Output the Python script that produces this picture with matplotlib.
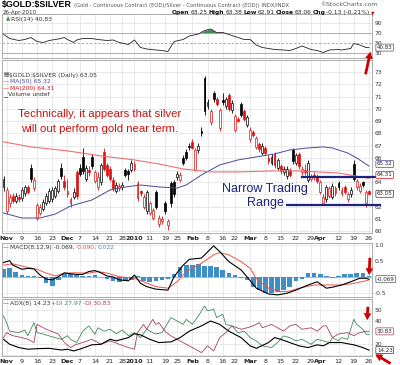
import numpy as np
import pandas as pd
import matplotlib
matplotlib.use('Agg')
import matplotlib.pyplot as plt
from matplotlib.patches import FancyArrowPatch

plt.rcParams['font.family'] = ['DejaVu Sans']

# ---------------- data ----------------
holidays = ['2009-11-26', '2009-12-25', '2010-01-01', '2010-01-18', '2010-02-15', '2010-04-02']

opens = [63.6, 61.6, 62.3, 62.9, 62.5, 62.8, 62.7, 63.1, 63.6, 65.2, 63.5, 61.1, 61.5, 61.8, 62.3, 62.5,
         62.6, 62.9, 63.3, 65.2, 64.1, 63.0, 62.3, 62.8, 64.8, 65.2, 66.1, 64.3, 65.0, 66.1, 64.1, 63.6,
         64.0, 66.5, 65.4, 65.1, 64.2, 63.3, 63.5, 63.6, 65.0, 64.9, 65.0, 65.1, 62.7, 63.3, 62.0, 61.6,
         61.5, 61.1, 63.2, 60.6, 60.8, 62.3, 60.5, 63.9, 64.0, 64.4, 64.2, 66.0, 66.5, 67.0, 67.3, 65.0,
         66.6, 68.2, 72.5, 70.2, 68.9, 71.3, 70.8, 68.4, 70.7, 70.2, 71.1, 69.9, 68.3, 69.2, 70.4, 69.8,
         68.7, 67.5, 68.1, 66.9, 67.1, 66.4, 66.8, 66.0, 65.6, 66.3, 65.2, 65.3, 64.8, 64.5, 65.0, 66.6,
         65.6, 66.3, 64.8, 65.0, 64.2, 64.3, 64.6, 64.5, 63.2, 62.3, 62.6, 62.9, 62.8, 63.1, 63.9, 63.1,
         63.6, 62.6, 63.0, 65.5, 63.6, 63.3, 64.0, 62.3, 63.25]
highs = [64.5, 63.6, 63.0, 63.1, 63.1, 63.0, 63.6, 63.8, 63.8, 65.5, 64.4, 62.3, 62.2, 62.6, 63.1, 63.5,
         63.6, 63.7, 64.3, 65.6, 64.6, 64.3, 62.8, 63.5, 65.0, 65.5, 66.8, 65.4, 65.3, 66.3, 65.0, 64.8,
         65.6, 66.8, 65.6, 65.3, 64.4, 64.0, 63.9, 64.0, 65.2, 65.1, 65.8, 65.7, 64.1, 63.4, 63.0, 63.4,
         62.5, 61.9, 63.4, 61.3, 61.2, 62.5, 61.0, 64.1, 64.2, 64.9, 64.8, 66.2, 66.7, 67.2, 67.5, 66.8,
         67.2, 68.5, 72.7, 70.8, 70.0, 71.5, 71.0, 70.1, 71.3, 71.0, 71.3, 70.7, 69.6, 69.3, 70.6, 70.0,
         69.5, 68.5, 68.3, 67.8, 67.3, 67.2, 67.0, 66.2, 66.3, 66.5, 66.0, 65.5, 65.3, 65.3, 65.2, 66.8,
         66.4, 66.5, 65.3, 65.5, 65.8, 64.7, 64.8, 64.7, 64.2, 63.0, 63.8, 63.7, 63.9, 63.7, 64.1, 63.6,
         63.8, 63.2, 63.6, 65.8, 64.3, 63.9, 64.1, 63.4, 63.38]
lows = [63.3, 61.4, 62.0, 62.3, 62.3, 62.4, 62.5, 62.9, 63.0, 64.0, 63.3, 60.9, 61.3, 61.6, 62.1, 62.3,
        62.4, 62.7, 63.1, 64.3, 63.4, 62.8, 62.0, 62.6, 62.6, 64.5, 64.7, 64.1, 64.5, 65.1, 63.9, 63.4,
        63.8, 64.9, 64.4, 64.1, 63.3, 63.1, 63.3, 63.4, 64.4, 64.2, 64.8, 64.9, 62.5, 62.9, 61.8, 61.4,
        61.3, 60.9, 61.8, 60.3, 60.6, 61.4, 60.1, 62.0, 62.8, 64.2, 64.0, 65.4, 65.8, 66.6, 66.7, 64.9,
        66.4, 67.8, 69.5, 70.0, 68.7, 70.6, 70.2, 68.2, 70.3, 70.0, 69.8, 69.7, 68.1, 68.9, 69.3, 69.0,
        68.5, 67.3, 67.7, 66.7, 66.5, 66.2, 66.2, 65.5, 65.4, 65.2, 65.0, 64.7, 64.6, 64.3, 64.4, 65.5,
        65.4, 65.1, 64.6, 64.6, 64.0, 64.1, 64.2, 63.9, 63.0, 62.1, 62.4, 62.7, 62.6, 62.9, 63.4, 62.9,
        63.0, 62.4, 62.8, 64.1, 63.4, 63.1, 63.6, 62.0, 62.91]
closes = [64.3, 63.4, 62.8, 62.5, 62.9, 62.6, 63.4, 63.6, 63.2, 64.3, 64.2, 62.1, 62.0, 62.4, 62.9, 63.3,
          63.4, 63.5, 64.1, 64.5, 63.6, 63.3, 62.6, 63.2, 62.9, 64.7, 64.9, 65.2, 64.8, 65.3, 64.8, 64.4,
          65.4, 65.1, 64.6, 64.3, 63.5, 63.8, 63.7, 63.8, 64.6, 64.7, 65.6, 65.5, 63.9, 63.1, 62.8, 63.2,
          62.3, 61.7, 62.0, 61.1, 61.0, 61.6, 60.8, 62.3, 63.0, 64.7, 64.6, 65.6, 66.0, 66.9, 66.8, 66.6,
          67.0, 68.0, 69.8, 70.6, 69.8, 70.8, 70.4, 69.9, 70.6, 70.8, 70.0, 70.5, 69.4, 69.0, 69.5, 69.2,
          69.3, 68.3, 67.9, 67.6, 66.7, 67.0, 66.4, 65.7, 66.1, 65.4, 65.8, 64.9, 65.1, 65.1, 64.6, 65.7,
          66.2, 65.3, 65.1, 64.8, 65.6, 64.5, 64.4, 64.1, 64.0, 62.8, 63.6, 63.5, 63.7, 63.5, 63.6, 63.4,
          63.2, 63.0, 63.4, 64.3, 64.1, 63.7, 63.8, 63.18, 63.05]

ma50_day = [0, 6, 12, 17, 22, 29, 35, 40, 45, 51, 57, 60, 65, 71, 77, 83, 89, 94, 100, 105, 108, 113, 116, 120]
ma50_val = [61.48, 61.07, 61.07, 61.39, 62.05, 62.54, 63.36, 63.61, 63.77, 63.61, 63.52, 63.77, 64.59,
            65.41, 65.82, 66.07, 66.31, 66.64, 66.80, 66.89, 66.80, 66.39, 65.98, 65.32]
ma200_day = [0, 9, 21, 32, 43, 51, 59, 68, 78, 88, 97, 110, 120]
ma200_val = [67.30, 66.89, 66.56, 66.15, 65.82, 65.49, 65.08, 64.84, 64.84, 64.92, 64.92, 64.75, 64.31]

rsi_day = [0, 2, 5, 7, 9, 11, 13, 15, 18, 20, 21, 23, 24, 26, 29, 31, 34, 36, 38, 41, 43, 45, 47, 50, 52,
           54, 55, 56, 59, 61, 64, 66, 68, 70, 72, 74, 77, 79, 81, 83, 85, 89, 92, 94, 96, 98, 101, 103,
           105, 107, 110, 111, 114, 115, 117, 119, 120]
rsi_val = [67.4, 59, 55, 57, 61, 53, 51, 55, 58, 61, 57, 51, 56, 59, 59, 57, 55, 56, 51, 47, 56, 41, 38, 36,
           35, 33, 43, 53, 57, 64, 68, 75, 78, 71, 71, 67, 61, 57, 57, 46, 41, 37, 36, 35, 39, 44, 37, 35,
           31, 36, 37, 36, 39, 49, 46, 41, 40.83]

macd_day = [0, 2, 3, 6, 8, 10, 12, 14, 16, 18, 20, 21, 24, 26, 28, 30, 32, 34, 36, 38, 41, 43, 45, 47, 50,
            54, 56, 59, 61, 65, 69, 71, 74, 78, 80, 83, 87, 90, 93, 96, 100, 103, 106, 108, 111, 114, 117,
            119, 120]
macd_val = [0.45, 0.51, 0.37, 0.24, 0.27, 0.25, 0.06, -0.07, -0.09, 0.01, 0.13, 0.11, 0.08, 0.08, 0.17, 0.20,
            0.13, 0.03, 0.0, -0.09, -0.12, 0.06, -0.20, -0.30, -0.38, -0.41, 0.01, 0.37, 0.55, 0.59, 0.97,
            0.79, 0.48, 0.22, 0.0, -0.35, -0.53, -0.56, -0.51, -0.41, -0.25, -0.15, -0.35, -0.32, -0.25,
            -0.15, -0.04, -0.04, -0.069]
signal_day = [0, 3, 8, 11, 14, 17, 20, 23, 28, 31, 34, 38, 43, 46, 50, 54, 57, 60, 65, 69, 71, 74, 78, 81,
              83, 87, 91, 94, 97, 102, 106, 111, 115, 119, 120]
signal_val = [0.37, 0.41, 0.30, 0.24, 0.12, 0.03, 0.12, 0.13, 0.12, 0.17, 0.12, 0.01, -0.04, -0.15, -0.30,
              -0.35, -0.15, 0.17, 0.43, 0.69, 0.76, 0.69, 0.48, 0.27, -0.05, -0.35, -0.46, -0.44, -0.35,
              -0.25, -0.25, -0.25, -0.20, -0.12, -0.090]
hist_day = list(range(0, 121, 2))
hist_val = [0.25, 0.28, 0.15, 0.05, 0.04, 0.03, -0.02, -0.20, -0.28, -0.10, 0.08, 0.10, 0.05, 0.02, 0.04,
            0.05, 0.0, -0.05, -0.12, -0.15, -0.14, -0.08, 0.04, -0.12, -0.16, -0.12, -0.08, -0.05, 0.10,
            0.30, 0.36, 0.38, 0.40, 0.35, 0.33, 0.30, 0.22, 0.12, 0.06, -0.02, -0.10, -0.30, -0.42, -0.50,
            -0.50, -0.48, -0.40, -0.30, -0.12, -0.05, 0.12, 0.13, 0.10, 0.03, -0.02, 0.02, 0.08, 0.10,
            0.12, 0.13, 0.02]

pdi_day = [0, 1, 2, 5, 7, 8, 10, 11, 13, 16, 19, 21, 22, 24, 26, 28, 30, 31, 33, 35, 37, 39, 41, 43, 45,
           47, 49, 50, 52, 55, 57, 59, 60, 62, 64, 66, 67, 69, 70, 72, 73, 75, 77, 79, 81, 83, 85, 88, 90,
           92, 94, 96, 98, 101, 103, 105, 107, 108, 110, 111, 113, 115, 116, 118, 119, 120]
pdi_val = [44.5, 38.6, 31, 29.7, 32, 27, 38.6, 29.7, 28.5, 26, 23.8, 27, 23.8, 20.9, 31, 35.7, 28.3, 34, 31,
           32.7, 28.8, 32, 27, 29.7, 25.3, 32.7, 29.7, 28.5, 29.7, 43, 40, 37, 41.5, 37, 44.5, 53.4, 49,
           50.4, 43, 46, 37, 35.7, 29.7, 31, 25.3, 22.4, 18, 16.5, 20.9, 26.8, 25.3, 22.4, 23.8, 19.4, 23.8,
           22.4, 20.9, 25.3, 22.4, 25.3, 23.8, 41.5, 37, 32.7, 28.5, 27.97]
mdi_day = [0, 1, 3, 6, 8, 10, 11, 14, 18, 20, 22, 24, 26, 29, 32, 35, 38, 41, 43, 44, 46, 47, 49, 50, 51,
           53, 55, 57, 60, 62, 65, 67, 69, 71, 73, 75, 78, 80, 82, 84, 85, 88, 90, 92, 94, 96, 98, 101, 103,
           105, 106, 108, 110, 113, 115, 117, 119, 120]
mdi_val = [25.3, 29.7, 27, 25.3, 23.8, 20.9, 37, 32.7, 28.5, 20.9, 16.5, 19.4, 20.9, 23.8, 19.4, 22.4, 19.4,
           16.5, 15, 29.7, 37, 32.7, 41.5, 37, 38.6, 31, 26.8, 23.8, 19.4, 16.5, 12, 18, 13.5, 25.3, 29.7,
           35.7, 32.7, 34, 35.7, 38.6, 34, 37, 34, 31, 35.7, 37, 32.7, 34, 31, 35.7, 35.7, 25.3, 28.5, 29.7,
           27, 29.7, 31, 30.83]
adx_day = [0, 2, 5, 8, 11, 15, 19, 21, 23, 25, 29, 32, 35, 37, 41, 43, 45, 48, 51, 55, 58, 61, 65, 68, 71,
           74, 78, 81, 83, 87, 89, 91, 94, 97, 100, 103, 105, 107, 111, 115, 118, 120]
adx_val = [23.8, 19.4, 16.5, 15, 15.5, 15.8, 14.3, 15, 13.5, 15, 18.9, 19.4, 23.8, 22.4, 25.3, 28.8, 27.7,
           23.8, 20.9, 21.5, 25.3, 31, 35.7, 40, 37, 31, 25.3, 18, 15.8, 20.9, 25.3, 23.8, 20.9, 18, 16.5,
           18.9, 18, 20.9, 20.9, 18.9, 16.5, 14.23]

tick_dates = ['2009-11-02', '2009-11-09', '2009-11-16', '2009-11-23', '2009-12-01', '2009-12-07',
              '2009-12-14', '2009-12-21', '2009-12-28', '2010-01-04', '2010-01-11', '2010-01-19',
              '2010-01-25', '2010-02-01', '2010-02-08', '2010-02-16', '2010-02-22', '2010-03-01',
              '2010-03-08', '2010-03-15', '2010-03-22', '2010-03-29', '2010-04-01', '2010-04-12',
              '2010-04-19', '2010-04-26']
tick_labels = ['Nov', '9', '16', '23', 'Dec', '7', '14', '21', '28', '2010', '11', '19', '25', 'Feb', '8',
               '16', '22', 'Mar', '8', '15', '22', '29', 'Apr', '12', '19', '26']

range_top, range_bottom = 64.45, 62.1
range_top_from, range_bottom_from, range_to = 98, 93, 123.5

# ---------------- layout ----------------
W, H = 400, 365
RED = '#dd1111'
BLUE = '#4a4a9c'
MA200_C = '#f07070'
GREEN = '#3f8a5a'
MAROON = '#a8405e'
HIST_C = '#3f8fc4'
NAVY = '#1c2480'
GRID = '#e2e2e2'

days = pd.bdate_range('2009-10-30', '2010-04-26')
days = days[~days.isin(pd.to_datetime(holidays))]
tick_idx = [days.get_loc(pd.Timestamp(d)) for d in tick_dates]

fig = plt.figure(figsize=(W / 100, H / 100), dpi=100)
fig.patch.set_facecolor('white')


def rect(x0, y0, x1, y1):
    return [x0 / W, 1 - y1 / H, (x1 - x0) / W, (y1 - y0) / H]


def fy(y):
    return 1 - y / H


ax_rsi = fig.add_axes(rect(2, 14, 372, 58))
ax_p = fig.add_axes(rect(2, 60, 372, 233))
ax_m = fig.add_axes(rect(2, 243, 372, 297))
ax_a = fig.add_axes(rect(2, 299, 372, 356))

for ax in (ax_rsi, ax_p, ax_m, ax_a):
    ax.set_xlim(-0.5, 121)
    for s in ax.spines.values():
        s.set_color('#a0a0a0')
        s.set_linewidth(0.6)
    ax.yaxis.tick_right()
    ax.tick_params(axis='both', length=0, labelsize=4.3, colors='#333333', pad=2)
    ax.set_xticks(tick_idx)
    ax.grid(True, color=GRID, lw=0.5)
    ax.set_axisbelow(True)

for ax in (ax_rsi, ax_m):
    ax.set_xticklabels([])
for ax in (ax_p, ax_a):
    ax.set_xticklabels(tick_labels)
    for lab in ax.get_xticklabels():
        if not lab.get_text().isdigit() or lab.get_text() == '2010':
            lab.set_fontweight('bold')
        lab.set_fontsize(4.6)
        lab.set_color('#222222')

# ---------------- RSI ----------------
ax_rsi.set_ylim(20, 108)
ax_rsi.set_yticks([90, 70, 50, 30])
ax_rsi.grid(False, axis='y')
ax_rsi.axhline(90, color=GRID, lw=0.5)
ax_rsi.axhline(70, color='#a0a0a0', lw=0.6)
ax_rsi.axhline(30, color='#a0a0a0', lw=0.6)
ax_rsi.axhline(50, color='#a0a0a0', lw=0.6, ls=(0, (3, 2)))
ax_rsi.plot(rsi_day, rsi_val, color='#222222', lw=0.6)
r_d = np.array(rsi_day)
r_v = np.array(rsi_val)
ax_rsi.fill_between(r_d, r_v, 70, where=r_v > 70, interpolate=True, color=GREEN, lw=0)

# ---------------- price ----------------
ax_p.set_ylim(59.84, 74.0)
ax_p.set_yticks(range(60, 74))
ax_p.set_yticklabels([str(v) if v not in (63, 65) else '' for v in range(60, 74)])
o = np.array(opens)
h = np.array(highs)
l = np.array(lows)
c = np.array(closes)
prev = np.r_[c[0], c[:-1]]
cols = np.where(c < prev, RED, '#000000')
idx = np.arange(len(c))
ax_p.vlines(idx, l, h, colors=cols, lw=0.6, zorder=2)
bottoms = np.minimum(o, c)
heights = np.maximum(np.abs(c - o), 0.06)
faces = np.where(c > o, 'white', cols)
ax_p.bar(idx, heights, bottom=bottoms, width=0.62, color=faces, edgecolor=cols, lw=0.5, zorder=3)

ax_p.plot(ma50_day, ma50_val, color=BLUE, lw=0.7, zorder=4)
ax_p.plot(ma200_day, ma200_val, color=MA200_C, lw=0.8, zorder=4)

ax_p.plot([range_top_from, range_to], [range_top, range_top], color=NAVY, lw=1.6, clip_on=False, zorder=5)
ax_p.plot([range_bottom_from, range_to], [range_bottom, range_bottom], color=NAVY, lw=1.6,
          clip_on=False, zorder=5)

fig.text(100 / W, fy(114), 'Technically, it appears that silver', color='#cc1111', fontsize=8.2,
         family='Liberation Sans', ha='center', va='center')
fig.text(100 / W, fy(129), 'will out perform gold near term.', color='#cc1111', fontsize=8.2,
         family='Liberation Sans', ha='center', va='center')
fig.text(265 / W, fy(189), 'Narrow Trading', color=NAVY, fontsize=9, family='Liberation Sans',
         ha='center', va='center')
fig.text(265 / W, fy(203), 'Range', color=NAVY, fontsize=9, family='Liberation Sans',
         ha='center', va='center')

# ---------------- MACD ----------------
ax_m.set_ylim(-0.625, 1.06)
ax_m.set_yticks([1.0, 0.5, 0.0, -0.5])
ax_m.set_yticklabels(['1.0', '0.5', '', '-0.5'])
ax_m.bar(hist_day, hist_val, width=1.5, color=HIST_C, lw=0, zorder=2)
ax_m.axhline(0, color='#a0a0a0', lw=0.5, zorder=1)
ax_m.plot(signal_day, signal_val, color='#f05050', lw=0.7, zorder=3)
ax_m.plot(macd_day, macd_val, color='#000000', lw=0.8, zorder=4)

# ---------------- ADX ----------------
ax_a.set_ylim(9, 59.5)
ax_a.set_yticks([50, 40, 30, 20, 10])
ax_a.set_yticklabels(['50', '40', '', '20', '10'])
ax_a.plot(adx_day, adx_val, color='#000000', lw=0.8, zorder=4)
ax_a.plot(mdi_day, mdi_val, color=MAROON, lw=0.6, zorder=3)
ax_a.plot(pdi_day, pdi_val, color=GREEN, lw=0.6, zorder=3)


# ---------------- value boxes on the right ----------------
def vbox(ax, val, txt, ec, dy=0):
    ax.annotate(txt, xy=(1, val), xycoords=('axes fraction', 'data'), xytext=(3.5, dy),
                textcoords='offset points', ha='left', va='center', fontsize=4.0, color='#222222',
                bbox=dict(boxstyle='round,pad=0.18', fc='white', ec=ec, lw=0.5), annotation_clip=False,
                zorder=10)


vbox(ax_rsi, rsi_val[-1], f'{rsi_val[-1]:.2f}', '#555555')
vbox(ax_p, ma50_val[-1], f'{ma50_val[-1]:.2f}', BLUE, dy=1.5)
vbox(ax_p, ma200_val[-1], f'{ma200_val[-1]:.2f}', RED, dy=2.5)
vbox(ax_p, closes[-1], f'{closes[-1]:.2f}', '#333333')
vbox(ax_m, macd_val[-1], '-0.069', '#555555')
vbox(ax_a, mdi_val[-1], f'{mdi_val[-1]:.2f}', MAROON)
vbox(ax_a, adx_val[-1], f'{adx_val[-1]:.2f}', '#333333')

# ---------------- texts ----------------
renderer = fig.canvas.get_renderer()


def chain(x, y, parts, gap=1.2):
    for txt, kw in parts:
        t = fig.text(x / W, fy(y), txt, va='center', ha='left', **kw)
        bb = t.get_window_extent(renderer)
        x = bb.x1 + gap


small = dict(fontsize=4.3, color='#333333')
chain(2, 5, [('\\$GOLD:\\$SILVER', dict(fontsize=6.4, fontweight='bold', color='#000000',
                                         family='Liberation Sans')),
             ('(Gold - Continuous Contract (EOD)/Silver - Continuous Contract (EOD)) INDX/INDX',
              dict(fontsize=3.8, color='#555555'))], gap=2)
fig.text(377 / W, fy(5), '\u00a9StockCharts.com', fontsize=4.3, color='#555555', ha='right', va='center')
fig.text(3 / W, fy(12.5), '26-Apr-2010', fontsize=4.0, color='#333333', va='center')
bold = dict(fontsize=4.3, fontweight='bold', color='#111111')
norm = dict(fontsize=4.3, color='#222222')
chain(172, 12.5, [('Open', bold), ('63.25', norm), ('High', bold), ('63.38', norm), ('Low', bold),
                  ('62.91', norm), ('Close', bold), ('63.06', norm), ('Chg', bold), ('-0.13 (-0.21%)', norm),
                  ('\u25bc', dict(fontsize=3.3, color=RED))], gap=1.0)

chain(6, 19, [('\u25b2', dict(fontsize=4, color=GREEN)), ('RSI(14) 40.83', small)], gap=0.8)
chain(3, 75, [('\u25a4', dict(fontsize=4, color='#333333')), ('\\$GOLD:\\$SILVER (Daily) 63.05', small)],
      gap=0.8)
chain(3, 82, [('\u2014', dict(fontsize=4.3, color=BLUE)), ('MA(50) 65.32', dict(fontsize=4.3, color=BLUE))],
      gap=0.8)
chain(3, 88.5, [('\u2014', dict(fontsize=4.3, color=RED)), ('MA(200) 64.31', dict(fontsize=4.3, color=RED))],
      gap=0.8)
chain(3, 94.5, [('\u2581', dict(fontsize=4, color='#555555')), ('Volume undef', small)], gap=0.8)
chain(3, 247.5, [('\u2014', dict(fontsize=4.3, color='#333333')), ('MACD(8,12,9) -0.069,', small),
                 ('-0.090,', dict(fontsize=4.3, color='#e05050')), ('0.022', dict(fontsize=4.3, color=HIST_C))],
      gap=1.0)
chain(3, 303.5, [('\u2014', dict(fontsize=4.3, color='#333333')), ('ADX(8) 14.23', small),
                 ('+DI 27.97', dict(fontsize=4.3, color=GREEN)), ('-DI 30.83', dict(fontsize=4.3, color=MAROON))],
      gap=1.0)


# ---------------- red arrows ----------------
def arrow(x0, y0, x1, y1):
    a = FancyArrowPatch((x0 / W, fy(y0)), (x1 / W, fy(y1)), transform=fig.transFigure,
                        arrowstyle='simple,head_length=5,head_width=5.5,tail_width=2',
                        color='#cc0000', lw=0, zorder=20)
    fig.add_artist(a)


arrow(365, 77, 371, 49)
arrow(370, 255, 369, 278)
arrow(368, 304, 367, 323)
arrow(393, 365, 373, 353)

fig.savefig('out.png', dpi=100)
